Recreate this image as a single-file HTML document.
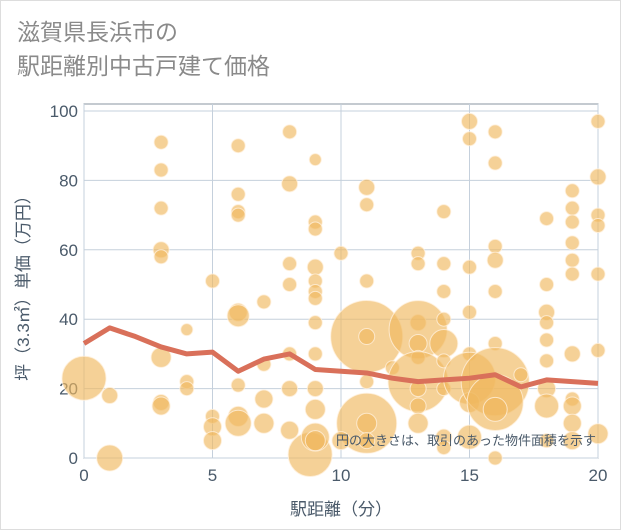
<!DOCTYPE html>
<html><head><meta charset="utf-8"><style>
body{margin:0;background:#fff;}
#wrap{position:relative;width:621px;height:530px;background:#fff;border:1px solid #ddd;box-sizing:border-box;font-family:"Liberation Sans","Noto Sans CJK JP",sans-serif;}
#title{position:absolute;left:16px;top:14px;font-size:23px;line-height:34px;color:#8a8a8a;}
</style></head><body>
<div id="wrap">
<div id="title">滋賀県長浜市の<br>駅距離別中古戸建て価格</div>
<svg id="chart" width="621" height="530" style="position:absolute;left:0;top:0"></svg>
</div>
<script>
const xTicks=[0,5,10,15,20];
const yTicks=[0,20,40,60,80,100];
const lineX=[0,1,2,3,4,5,6,7,8,9,10,11,12,13,14,15,16,17,18,19,20];
const lineY=[33,37.5,35,32,30,30.5,25,28.5,30,25.5,25,24.5,23,22,22.5,23,24,20.5,22.5,22,21.5];
const bubX=[0,1,1,3,3,3,3,3,3,3,3,4,4,4,5,5,5,5,6,6,6,6,6,6,6,6,6,7,7,7,7,8,8,8,8,8,8,8,8.8,9,9,9,9,9,9,9,9,9,9,9,9,9,10,11,11,10,11,11,11,11,11,11,11,12,13,13,13,13,13,13,13,13,13,13,14,14,14,14,14,14,14,14,14,15,15,15,15,15,15,15,15,16,16,16,16,16,16,16,16,16,16,17,18,18,18,18,18,18,18,18,18,19,19,19,19,19,19,19,19,19,19,19,20,20,20,20,20,20,20];
const bubY=[23,18,0,91,83,72,60,58,29,16,15,37,22,20,51,12,9,5,90,76,71,70,42,41,21,12,10,45,17,10,27,94,79,56,50,30,20,8,1,86,68,66,55,51,48,46,39,30,20,14,6,5,59,35,10,5,78,73,51,35,22,10,5,26,59,56,39,37,33,29,22,20,15,10,71,56,48,40,33,28,20,6,3,97,92,55,42,30,6,23,16,94,85,61,57,48,33,22,16,14,0,24,69,50,42,39,34,28,20,15,5,77,72,68,62,57,53,30,17,15,10,5,97,81,70,67,53,31,7];
const bubR=[22,8,13,7,7,7,8,7,10,8,9,6,7,7,7,7,9,9,7,7,7,7,9,11,7,10,13,7,9,10,7,7,8,7,7,7,8,9,22,6,7,7,8,7,7,7,7,7,8,10,14,10,7,36,30,9,8,7,7,8,7,10,8,7,7,7,8,29,9,7,30,8,8,10,7,7,7,7,14,7,7,8,7,8,7,7,7,7,12,26,10,7,7,7,8,7,7,34,28,12,7,7,7,7,8,7,7,7,9,12,7,7,7,7,7,7,7,8,7,9,9,9,7,8,7,7,7,7,10];
const svg=document.getElementById('chart');const NS='http://www.w3.org/2000/svg';
const X0=83,X1=597,Y0=457,Y1=110;
const sx=v=>X0+(X1-X0)*v/20, sy=v=>Y0-(Y0-Y1)*v/100;
function mk(t,a,p){const e=document.createElementNS(NS,t);for(const k in a)e.setAttribute(k,a[k]);(p||svg).appendChild(e);return e;}
const frame=mk('rect',{x:X0,y:103,width:X1-X0,height:Y0-103,fill:'none',stroke:'#8894a0','stroke-width':1});


yTicks.forEach(v=>{const l=mk('line',{x1:X0,x2:X1,y1:sy(v),y2:sy(v),stroke:'#c5d0dc'});


const t=mk('text',{x:X0-6,y:sy(v)+6,'text-anchor':'end','font-size':17,fill:'#4a5a6a'});t.textContent=v;

});
xTicks.forEach(v=>{const l=mk('line',{x1:sx(v),x2:sx(v),y1:103,y2:Y0,stroke:'#c5d0dc'});


const t=mk('text',{x:sx(v),y:Y0+23,'text-anchor':'middle','font-size':17,fill:'#4a5a6a'});t.textContent=v;

});
const g=mk('g',{});


bubX.forEach((x,i)=>{const c=mk('circle',{cx:sx(x),cy:sy(bubY[i]),r:bubR[i],fill:'rgba(240,185,95,0.65)',stroke:'rgba(255,240,220,0.8)','stroke-width':1},g);

});
const pts=lineX.map((x,i)=>sx(x)+','+sy(lineY[i])).join(' ');
const pl=mk('polyline',{points:pts,fill:'none',stroke:'#d9705a','stroke-width':5,'stroke-linejoin':'round'});


const note=mk('text',{x:595,y:444,'text-anchor':'end','font-size':13,fill:'#4a5a6a'});note.textContent='円の大きさは、取引のあった物件面積を示す';


const xt=mk('text',{x:340,y:514,'text-anchor':'middle','font-size':17,fill:'#4a5a6a'});xt.textContent='駅距離（分）';


const yt=mk('text',{x:0,y:0,'text-anchor':'middle','font-size':17,fill:'#4a5a6a',transform:'translate(28,283) rotate(-90)'});yt.textContent='坪（3.3㎡）単価（万円）';


</script>
</body></html>
